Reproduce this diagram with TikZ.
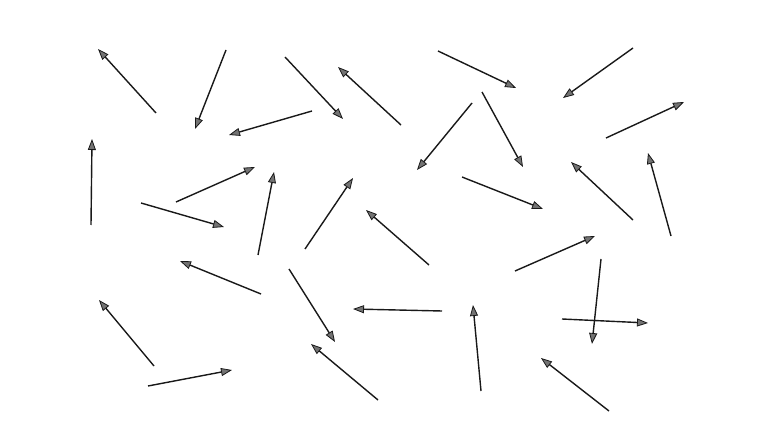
\documentclass[tikz,border=0pt]{standalone}
\usetikzlibrary{arrows.meta}
\tikzset{
  vec/.style={line width=1.4pt, draw=black!90,
    -{Triangle[length=11pt,width=8pt,fill=black!55,line width=0.8pt]}},
}
\begin{document}
\begin{tikzpicture}[x=1pt,y=-1pt]
\useasboundingbox (0,0) rectangle (770,427);
\foreach \n/\ax/\ay/\bx/\by in {
  1/156/113/98/49,
  2/226/50/195/129,
  3/285/57/343/119,
  4/401/125/338/67,
  5/312/111/229/135,
  6/91/225/92/139,
  7/176/202/255/167,
  8/141/203/224/227,
  9/258/255/274/172,
  10/305/249/353/178,
  11/429/265/366/210,
  12/438/51/516/88,
  13/633/48/563/98,
  14/472/103/417/170,
  15/482/92/523/167,
  16/606/138/684/102,
  17/462/177/543/209,
  18/633/220/571/162,
  19/671/236/648/153,
  20/261/294/180/261,
  21/289/269/335/342,
  22/154/366/99/300,
  23/148/386/232/370,
  24/378/400/311/344,
  25/442/311/353/309,
  26/515/271/595/236,
  27/481/391/473/305,
  28/601/259/592/344,
  29/562/319/648/323,
  30/609/411/541/358}{
  \coordinate (t\n) at (\ax,\ay);
  \coordinate (h\n) at (\bx,\by);
  \draw[vec] (t\n) -- (h\n);
}
\end{tikzpicture}
\end{document}
